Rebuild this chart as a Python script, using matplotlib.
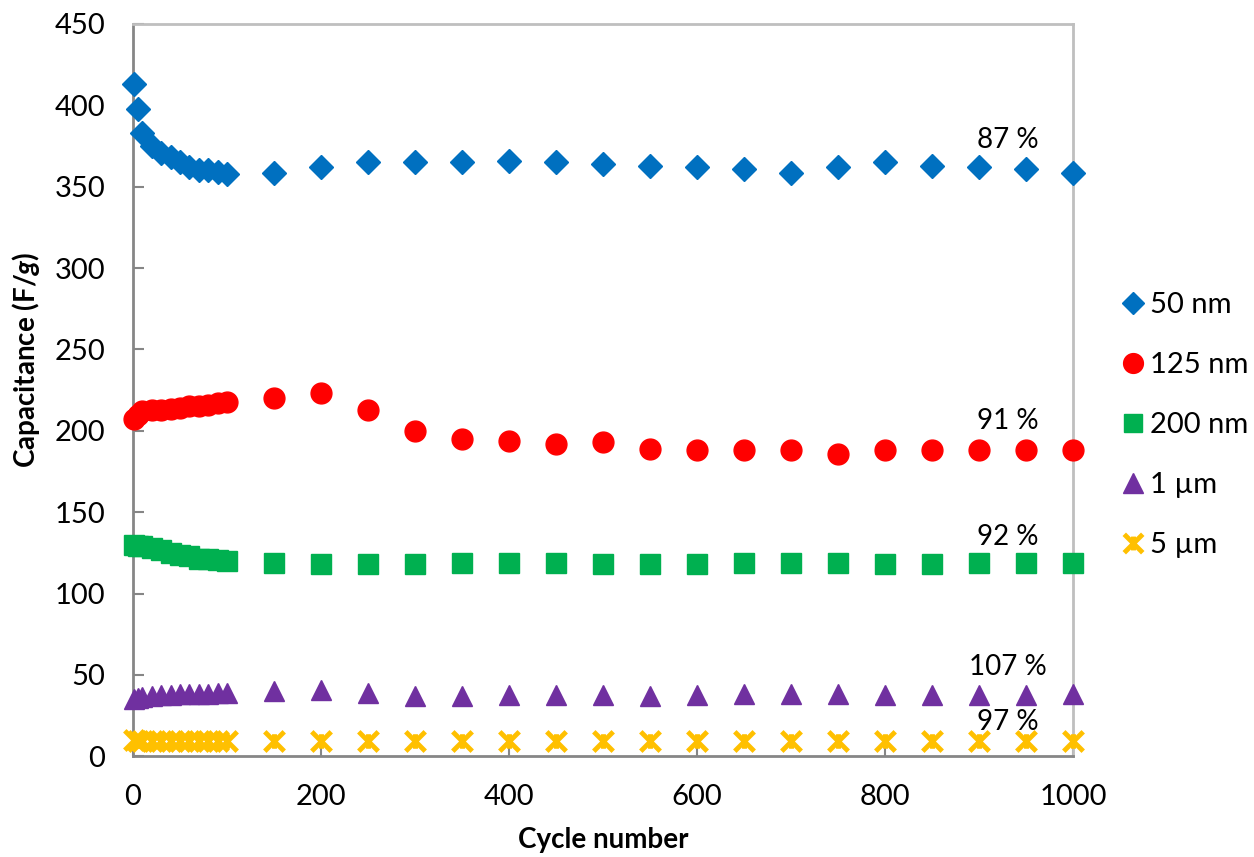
import numpy as np
import matplotlib
matplotlib.use("Agg")
import matplotlib.pyplot as plt
from matplotlib.path import Path

plt.rcParams['font.family'] = ['Lato', 'DejaVu Sans']
plt.rcParams['mathtext.fontset'] = 'custom'
plt.rcParams['mathtext.bfit'] = 'Lato:italic:bold'

# cycle numbers
cycles = [1, 5, 10, 20, 30, 40, 50, 60, 70, 80, 90, 100,
          150, 200, 250, 300, 350, 400, 450, 500, 550, 600,
          650, 700, 750, 800, 850, 900, 950, 1000]

cap_50nm = [413, 398, 383, 375, 371, 368, 365, 362, 360, 360, 359, 358,
            358.5, 362, 365, 365, 365.5, 366, 365, 364, 363, 362,
            361, 358.5, 362, 365, 363, 362, 361, 358.5]
cap_125nm = [207, 210, 212, 212.5, 213, 213.5, 214, 215, 215.5, 216, 217, 217.5,
             220, 223, 213, 200, 195, 194, 192, 193, 189, 188,
             188.5, 188, 186, 188, 188, 188.5, 188, 188]
cap_200nm = [130, 129.5, 129, 128, 126.5, 125, 124, 123, 121.5, 121, 120.5, 120,
             118.5, 118, 118, 118, 118.5, 119, 118.5, 118, 118, 118,
             118.5, 119, 119, 118, 118, 118.5, 119, 119]
cap_1um = [35.5, 36, 36.5, 37, 37.5, 37.5, 38, 38, 38.5, 38.5, 39, 39,
           40, 41, 39, 37, 37, 37.5, 37.5, 37.5, 37, 37.5,
           38, 38, 38, 37.5, 37.5, 37.5, 37.5, 38]
cap_5um = [9.8, 9.7, 9.7, 9.6, 9.6, 9.6, 9.6, 9.6, 9.5, 9.5, 9.5, 9.5,
           9.5, 9.5, 9.5, 9.5, 9.5, 9.5, 9.5, 9.5, 9.5, 9.5,
           9.5, 9.5, 9.5, 9.5, 9.5, 9.5, 9.5, 9.5]

labels = ['50 nm', '125 nm', '200 nm', '1 µm', '5 µm']
retention = ['87 %', '91 %', '92 %', '107 %', '97 %']
retention_y = [379, 206, 135, 55, 21]

# excel-style star: X plus a short vertical bar
star = Path([(-1, -1), (1, 1), (-1, 1), (1, -1), (0, -0.75), (0, 0.75)],
            [Path.MOVETO, Path.LINETO, Path.MOVETO, Path.LINETO, Path.MOVETO, Path.LINETO])

fig = plt.figure(figsize=(12.54, 8.57), dpi=100)
ax = fig.add_axes([0.106, 0.1175, 0.750, 0.8545])

kw = dict(ls='none', clip_on=False, zorder=3)
ax.plot(cycles, cap_50nm, marker='D', ms=12, color='#0070C0', label=labels[0], **kw)
ax.plot(cycles, cap_125nm, marker='o', ms=15, color='#FF0000', label=labels[1], **kw)
ax.plot(cycles, cap_200nm, marker='s', ms=14, color='#00B050', label=labels[2], **kw)
ax.plot(cycles, cap_1um, marker='^', ms=15, color='#7030A0', label=labels[3], **kw)
ax.plot(cycles, cap_5um, marker=star, ms=14, mew=3.5, color='#FFC000',
        fillstyle='none', label=labels[4], **kw)

for txt, y in zip(retention, retention_y):
    ax.text(930, y, txt, ha='center', va='center', fontsize=20)

ax.set_xlim(0, 1000)
ax.set_ylim(0, 450)
ax.set_xticks(np.arange(0, 1001, 200))
ax.set_yticks(np.arange(0, 451, 50))
ax.tick_params(direction='in', length=8, width=1.5, color='#868686', labelsize=21, pad=20)
for s in ['left', 'bottom']:
    ax.spines[s].set_color('#868686')
    ax.spines[s].set_linewidth(2)
for s in ['top', 'right']:
    ax.spines[s].set_color('#BFBFBF')
    ax.spines[s].set_linewidth(2)

ax.set_xlabel('Cycle number', fontsize=20, fontweight='bold')
ax.set_ylabel(r'Capacitance (F/$\mathbfit{g}$)', fontsize=20, fontweight='bold')
ax.xaxis.set_label_coords(0.5, -0.097)
ax.yaxis.set_label_coords(-0.097, 0.542)

ax.legend(loc='center left', bbox_to_anchor=(0.894, 0.504), bbox_transform=fig.transFigure,
          frameon=False, fontsize=21, borderpad=0, borderaxespad=0,
          handlelength=0.8, handletextpad=0.2, labelspacing=1.16, markerscale=0.95)

fig.savefig('out.png', dpi=100)
